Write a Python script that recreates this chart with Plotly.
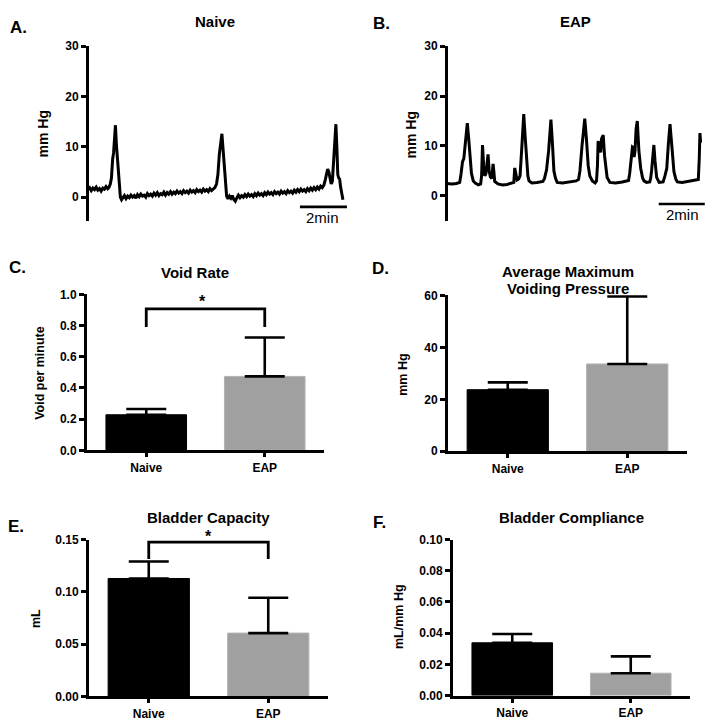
import plotly.graph_objects as go

W, H = 714, 728

# ---------------- DATA ----------------
# Panel A: Naive cystometry trace (time in min, pressure in mm Hg)
naive_t = [0.00,0.07,0.14,0.21,0.28,0.35,0.42,0.49,0.56,0.63,0.70,0.77,0.84,0.90,0.95,
           1.00,1.05,1.09,1.13,1.17,1.21,1.25,1.29,1.33,1.38,1.43,1.48,
           1.55,1.62,1.69,1.76,1.83,1.90,1.97,2.04,2.11,2.18,2.25,2.32,2.39,2.46,2.53,2.60,2.67,2.74,2.81,2.88,2.95,
           3.02,3.09,3.16,3.23,3.30,3.37,3.44,3.51,3.58,3.65,3.72,3.79,3.86,3.93,4.00,4.07,4.14,4.21,4.28,4.35,4.42,
           4.49,4.56,4.63,4.70,4.77,4.84,4.91,4.98,5.05,5.12,5.19,5.26,5.33,5.40,
           5.47,5.53,5.59,5.65,5.70,5.75,5.80,5.85,5.90,5.96,6.02,6.08,6.14,6.20,6.27,6.33,
           6.40,6.47,6.54,6.61,6.68,6.75,6.82,6.89,6.96,7.03,7.10,7.17,7.24,7.31,7.38,7.45,7.52,7.59,7.66,7.73,7.80,
           7.87,7.94,8.01,8.08,8.15,8.22,8.29,8.36,8.43,8.50,8.57,8.64,8.71,8.78,8.85,8.92,8.99,9.06,9.13,9.20,9.27,
           9.34,9.41,9.48,9.55,9.62,9.69,9.76,9.83,9.90,9.97,10.04,
           10.10,10.15,10.20,10.25,10.30,10.35,10.40,10.45,10.50,10.55,10.59,10.63,10.67,10.71,10.75,10.80,10.85]
naive_p = [1.6,1.9,1.3,1.8,1.5,2.0,1.4,1.7,1.2,1.8,1.6,2.1,1.7,2.0,2.6,
           3.8,7.5,8.8,11.5,14.3,10.5,8.0,4.5,1.5,0.0,-0.5,-0.2,
           0.3,-0.3,0.2,-0.1,0.4,0.0,0.3,-0.2,0.5,0.1,0.6,0.2,0.4,0.0,0.7,0.3,0.6,0.2,0.8,0.4,0.9,
           0.3,0.7,0.5,1.0,0.4,0.9,0.6,1.1,0.6,1.0,0.7,1.2,0.8,1.1,0.7,1.3,0.9,1.2,0.8,1.4,1.0,
           1.3,0.9,1.5,1.1,1.4,1.0,1.6,1.2,1.5,1.1,1.7,1.3,1.6,1.9,
           2.6,4.5,8.5,11.0,12.6,9.5,6.0,2.5,0.2,-0.3,0.2,-0.2,0.3,-0.4,-0.8,-0.2,
           0.4,-0.1,0.3,0.0,0.5,0.1,0.6,0.2,0.5,0.1,0.7,0.3,0.8,0.4,0.7,0.3,0.9,0.5,1.0,0.6,0.9,
           0.5,1.1,0.7,1.0,0.6,1.2,0.8,1.1,0.7,1.3,0.9,1.2,0.8,1.4,1.0,1.5,1.1,1.6,1.2,1.5,1.1,
           1.7,1.3,1.8,1.4,1.9,1.5,2.0,1.6,2.2,1.9,2.4,
           3.5,5.0,5.6,5.0,3.5,2.6,3.2,7.5,12.0,14.5,10.0,4.5,3.8,3.6,2.0,0.2,-0.5]

# Panel B: EAP cystometry trace
eap_t = [0.17,0.40,0.60,0.74,0.80,0.86,0.92,0.98,1.07,1.13,1.19,1.25,1.33,1.43,1.55,1.65,1.69,1.73,1.78,1.83,
         1.88,1.93,1.97,2.02,2.07,2.13,2.19,2.23,2.26,2.40,2.60,2.80,3.00,3.09,3.13,3.18,3.23,3.30,3.36,3.44,
         3.52,3.58,3.64,3.70,3.75,3.87,4.10,4.35,4.42,4.47,4.51,4.60,4.70,4.76,4.83,4.90,4.97,5.20,5.50,5.80,
         5.90,5.96,6.05,6.17,6.24,6.32,6.39,6.50,6.62,6.68,6.72,6.75,6.80,6.86,6.90,6.97,7.03,7.10,7.14,7.26,
         7.50,7.80,8.07,8.12,8.20,8.24,8.27,8.31,8.35,8.40,8.45,8.52,8.60,8.68,8.74,8.85,8.99,9.03,9.07,9.12,
         9.17,9.22,9.29,9.40,9.57,9.65,9.73,9.80,9.87,9.95,10.04,10.12,10.19,10.40,10.70,10.95,11.10,11.14,11.17,11.20]
eap_p = [2.5,2.4,2.5,2.7,4.5,6.8,7.5,11.0,14.6,11.5,7.0,4.5,3.0,2.5,2.2,2.4,4.0,10.2,6.0,4.0,
         4.5,7.5,8.3,5.0,3.8,3.5,6.4,4.5,2.9,2.4,2.2,2.3,2.5,2.7,5.6,4.0,3.2,3.4,4.0,10.0,
         16.4,12.0,7.0,4.0,3.0,2.6,2.7,2.9,3.5,4.5,5.2,9.0,15.3,11.0,5.0,3.5,2.7,2.6,2.8,3.0,
         3.3,5.0,10.0,15.5,11.5,6.0,4.0,3.0,2.6,3.0,6.0,11.0,10.0,8.7,11.5,12.2,8.0,4.5,3.7,2.7,
         2.6,2.8,3.1,4.5,8.4,9.8,9.7,7.8,9.0,13.5,15.0,9.0,5.5,3.6,3.0,2.7,2.8,3.5,5.0,8.5,
         10.2,7.0,3.7,2.7,2.8,4.0,5.5,10.5,14.4,10.0,4.9,3.4,2.8,2.7,2.9,3.1,3.3,7.5,12.6,10.7]

trace_yticks = [0, 10, 20, 30]
scalebar_A = [9.02, 11.02]   # 2 min
scalebar_B = [9.38, 11.38]
scalebar_y_A = -1.94
scalebar_y_B = -1.63

groups = ["Naive", "EAP"]
void_rate = [0.228, 0.474]
void_rate_err = [0.037, 0.249]
max_pressure = [23.7, 33.6]
max_pressure_err = [2.8, 26.0]
capacity = [0.1128, 0.0606]
capacity_err = [0.0162, 0.0338]
compliance = [0.0338, 0.0143]
compliance_err = [0.0056, 0.0108]

sig_C = [0.79, 0.907]      # bracket leg bottom, bracket top
sig_E = [0.1315, 0.1475]

bar_colors = ["#000000", "#a0a0a0"]
bar_edges = ["#000000", "#b2b2b2"]

# ---------------- FIGURE ----------------
FONT = "Liberation Sans, Arial, sans-serif"
fig = go.Figure()

def px_x(x):
    return x / W

def px_y(y):
    return 1 - y / H

# traces A and B
fig.add_trace(go.Scatter(x=naive_t, y=naive_p, mode="lines", line=dict(color="black", width=3),
                         xaxis="x", yaxis="y"))
fig.add_trace(go.Scatter(x=scalebar_A, y=[scalebar_y_A] * 2, mode="lines",
                         line=dict(color="black", width=2.6), xaxis="x", yaxis="y"))
fig.add_trace(go.Scatter(x=eap_t, y=eap_p, mode="lines", line=dict(color="black", width=3),
                         xaxis="x2", yaxis="y2"))
fig.add_trace(go.Scatter(x=scalebar_B, y=[scalebar_y_B] * 2, mode="lines",
                         line=dict(color="black", width=2.6), xaxis="x2", yaxis="y2"))

bar_sets = [(void_rate, void_rate_err, "x3", "y3"),
            (max_pressure, max_pressure_err, "x4", "y4"),
            (capacity, capacity_err, "x5", "y5"),
            (compliance, compliance_err, "x6", "y6")]
for vals, errs, xa, ya in bar_sets:
    fig.add_trace(go.Bar(x=groups, y=vals, width=0.68,
                         marker=dict(color=bar_colors, line=dict(width=1, color=bar_edges)),
                         error_y=dict(type="data", symmetric=False, array=errs, arrayminus=[0, 0],
                                      color="black", thickness=2.6, width=20),
                         xaxis=xa, yaxis=ya))

for sig, xa, ya in [(sig_C, "x3", "y3"), (sig_E, "x5", "y5")]:
    fig.add_trace(go.Scatter(x=["Naive", "Naive", "EAP", "EAP"], y=[sig[0], sig[1], sig[1], sig[0]],
                             mode="lines", line=dict(color="black", width=2.8), cliponaxis=False,
                             xaxis=xa, yaxis=ya))

axis_common = dict(showline=True, linewidth=3, linecolor="black", ticks="outside", ticklen=5,
                   tickwidth=2.5, tickcolor="black", showgrid=False, zeroline=False,
                   tickfont=dict(family=FONT, size=12, color="black", weight="bold"))

layout = dict(width=W, height=H, margin=dict(l=0, r=0, t=0, b=0), showlegend=False,
              plot_bgcolor="white", paper_bgcolor="white", bargap=0.3)

# A
layout["xaxis"] = dict(domain=[px_x(87), px_x(350)], range=[-0.04, 11.15], visible=False, anchor="y")
layout["yaxis"] = dict(domain=[px_y(218), px_y(40)], range=[-4.7, 30], tickvals=trace_yticks,
                       anchor="free", position=px_x(87), **axis_common)
# B
layout["xaxis2"] = dict(domain=[px_x(446), px_x(708)], range=[0.145, 11.52], visible=False, anchor="y2")
layout["yaxis2"] = dict(domain=[px_y(218), px_y(40)], range=[-5.0, 30], tickvals=trace_yticks,
                        anchor="free", position=px_x(446), **axis_common)

cat_axis = dict(axis_common, ticklen=4, type="category", range=[-0.5, 1.5])
cat_axis["tickfont"] = dict(family=FONT, size=12, color="black", weight="bold")
# C
layout["xaxis3"] = dict(cat_axis, domain=[px_x(87), px_x(324)], anchor="y3")
layout["yaxis3"] = dict(axis_common, domain=[px_y(452), px_y(293)], range=[0, 1], dtick=0.2,
                        tickformat=".1f", anchor="x3")
# D
layout["xaxis4"] = dict(cat_axis, domain=[px_x(448), px_x(687)], anchor="y4")
layout["yaxis4"] = dict(axis_common, domain=[px_y(453), px_y(294)], range=[0, 60], dtick=20, anchor="x4")
# E
layout["xaxis5"] = dict(cat_axis, domain=[px_x(89), px_x(328)], anchor="y5")
layout["yaxis5"] = dict(axis_common, domain=[px_y(703), px_y(543)], range=[0, 0.15], dtick=0.05,
                        tickformat=".2f", anchor="x5")
# F
layout["xaxis6"] = dict(cat_axis, domain=[px_x(453), px_x(690)], anchor="y6")
layout["yaxis6"] = dict(axis_common, domain=[px_y(702), px_y(543)], range=[0, 0.1], dtick=0.02,
                        tickformat=".2f", anchor="x6")

fig.update_layout(**layout)

ann = []
def text(x, y, s, size, bold=True, angle=0):
    ann.append(dict(x=px_x(x), y=px_y(y), xref="paper", yref="paper", text=s, showarrow=False,
                    textangle=angle, xanchor="center", yanchor="middle",
                    font=dict(family=FONT, size=size, color="black", weight="bold" if bold else "normal")))

# panel letters
text(18, 21, "A.", 17)
text(381, 17, "B.", 17)
text(17, 266, "C.", 17)
text(380, 267, "D.", 17)
text(16, 530, "E.", 17)
text(379, 526, "F.", 17)
# titles
text(215, 15, "Naive", 15)
text(575, 15, "EAP", 15)
text(195, 271, "Void Rate", 15)
text(568, 270, "Average Maximum", 15)
text(568, 287, "Voiding Pressure", 15)
text(208, 521, "Bladder Capacity", 15)
text(571, 521, "Bladder Compliance", 15)
# axis titles
text(42, 130, "mm Hg", 14, angle=-90)
text(410, 130, "mm Hg", 14, angle=-90)
text(40, 373, "Void per minute", 12.5, angle=-90)
text(403, 375, "mm Hg", 12.5, angle=-90)
text(36, 624, "mL", 12.5, angle=-90)
text(399, 622, "mL/mm Hg", 12.5, angle=-90)
# scale bar labels
text(322, 215, "2min", 15, bold=False)
text(682, 212, "2min", 15, bold=False)
# significance asterisks
text(202, 300, "*", 16)
text(208, 540, "*", 16)

fig.update_layout(annotations=ann)
fig.write_html("out.html", config={"displayModeBar": False},
               post_script="document.body.style.margin='0';document.body.style.overflow='hidden';")
